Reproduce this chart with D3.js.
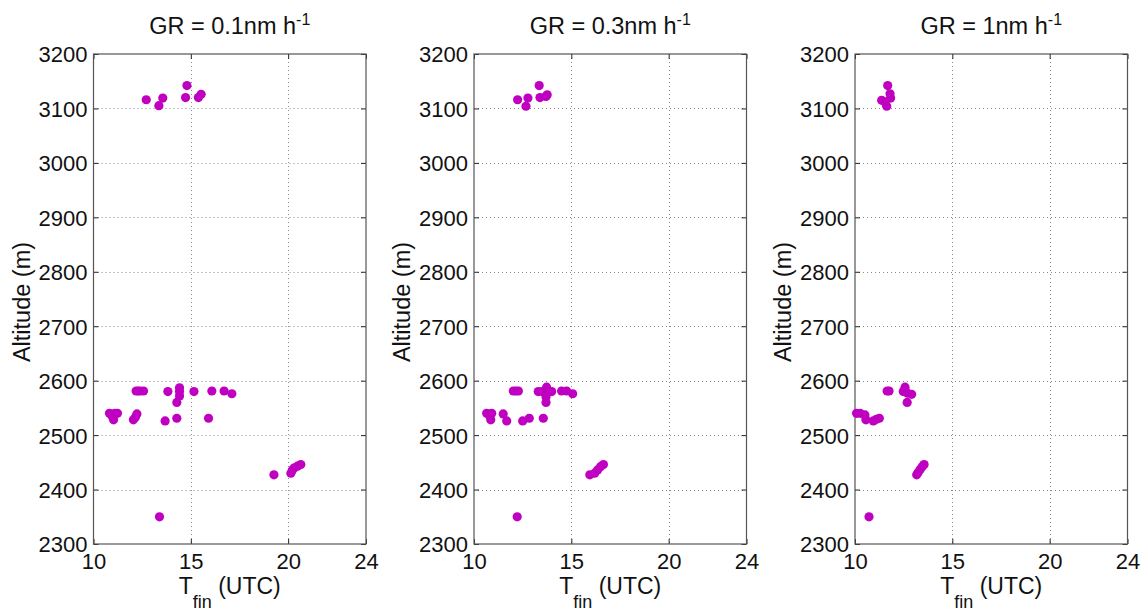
<!DOCTYPE html>
<html>
<head>
<meta charset="utf-8">
<script src="https://cdn.jsdelivr.net/npm/d3@7"></script>
<style>
  html, body { margin: 0; padding: 0; background: #fff; }
  svg { display: block; font-family: "Liberation Sans", Arial, sans-serif; }
</style>
</head>
<body>
<svg id="chart" width="1147" height="613"></svg>
<script>
// Final time of new-particle growth vs. altitude, for three growth rates
const growthRates = ["0.1", "0.3", "1"];

const xTicks = [10, 15, 20, 24];
const yTicks = [2300, 2400, 2500, 2600, 2700, 2800, 2900, 3000, 3100, 3200];
const xDomain = [10, 24];
const yDomain = [2300, 3200];

// [T_fin (UTC hours), altitude (m)]
const pointsGR01 = [
  [12.71, 3116], [13.36, 3105], [13.56, 3119], [14.80, 3142], [14.73, 3120], [15.39, 3120], [15.53, 3126],
  [10.82, 2540], [10.95, 2535], [11.03, 2528], [11.10, 2540], [11.23, 2540],
  [12.05, 2528], [12.15, 2533], [12.23, 2539],
  [12.19, 2581], [12.30, 2581], [12.40, 2581], [12.57, 2581],
  [13.82, 2580], [13.68, 2526],
  [14.42, 2587], [14.42, 2580], [14.42, 2572], [14.28, 2560], [14.28, 2531],
  [15.16, 2580], [16.08, 2581], [15.91, 2531], [16.71, 2581], [17.11, 2576],
  [19.27, 2427],
  [20.14, 2430], [20.22, 2436], [20.32, 2440], [20.48, 2443], [20.65, 2446],
  [13.39, 2350]
];

const pointsGR03 = [
  [12.24, 3116], [12.67, 3104], [12.77, 3119], [13.35, 3142], [13.39, 3120], [13.70, 3122], [13.76, 3125],
  [10.65, 2540], [10.78, 2537], [10.86, 2528], [10.91, 2540],
  [11.50, 2539], [11.68, 2526],
  [12.50, 2526], [12.84, 2531], [13.56, 2531],
  [12.02, 2581], [12.15, 2581], [12.28, 2581],
  [13.30, 2580], [13.50, 2580], [13.73, 2588], [13.70, 2577], [13.70, 2570], [13.99, 2580], [13.70, 2560],
  [14.50, 2581], [14.76, 2581], [15.07, 2576],
  [15.95, 2427], [16.20, 2430], [16.35, 2436], [16.50, 2442], [16.65, 2446],
  [12.22, 2350]
];

const pointsGR1 = [
  [11.68, 3142], [11.37, 3115], [11.54, 3112], [11.63, 3104], [11.80, 3127], [11.83, 3119],
  [10.08, 2540], [10.26, 2540], [10.51, 2537], [10.56, 2528], [10.94, 2526], [11.10, 2529], [11.25, 2531],
  [11.65, 2581], [11.75, 2581],
  [12.48, 2580], [12.57, 2588], [12.70, 2577], [12.91, 2575], [12.68, 2560],
  [13.17, 2427], [13.25, 2432], [13.35, 2437], [13.45, 2442], [13.55, 2446],
  [10.72, 2350]
];

const panelData = [pointsGR01, pointsGR03, pointsGR1];

// layout
const panelLefts = [93.5, 474, 855];
const panelWidth = 272.5;
const plotTop = 54, plotBottom = 544;
const dotColor = "#C000C0";

const svg = d3.select("#chart");

panelData.forEach((pts, i) => {
  const x0 = panelLefts[i];
  const x = d3.scaleLinear().domain(xDomain).range([x0, x0 + panelWidth]);
  const y = d3.scaleLinear().domain(yDomain).range([plotBottom, plotTop]);
  const g = svg.append("g");

  // dotted grid
  g.selectAll(".gx").data(xTicks.filter(t => t > xDomain[0] && t < xDomain[1])).enter()
    .append("line")
    .attr("x1", d => Math.round(x(d)) + 0.5).attr("x2", d => Math.round(x(d)) + 0.5)
    .attr("y1", plotTop).attr("y2", plotBottom)
    .attr("stroke", "#888").attr("stroke-width", 1).attr("stroke-dasharray", "1,3");
  g.selectAll(".gy").data(yTicks.filter(t => t > yDomain[0] && t < yDomain[1])).enter()
    .append("line")
    .attr("x1", x0).attr("x2", x0 + panelWidth)
    .attr("y1", d => Math.round(y(d)) + 0.5).attr("y2", d => Math.round(y(d)) + 0.5)
    .attr("stroke", "#888").attr("stroke-width", 1).attr("stroke-dasharray", "1,3");

  // axes with inward ticks on all four sides
  const tickLen = 5;
  const axB = g.append("g").attr("transform", `translate(0,${plotBottom})`)
    .call(d3.axisBottom(x).tickValues(xTicks).tickSize(-tickLen).tickPadding(9).tickFormat(d3.format("d")));
  const axT = g.append("g").attr("transform", `translate(0,${plotTop})`)
    .call(d3.axisTop(x).tickValues(xTicks).tickSize(-tickLen).tickFormat(""));
  const axL = g.append("g").attr("transform", `translate(${x0},0)`)
    .call(d3.axisLeft(y).tickValues(yTicks).tickSize(-tickLen).tickPadding(6).tickFormat(d3.format("d")));
  const axR = g.append("g").attr("transform", `translate(${x0 + panelWidth},0)`)
    .call(d3.axisRight(y).tickValues(yTicks).tickSize(-tickLen).tickFormat(""));
  [axB, axT, axL, axR].forEach(a => {
    a.select(".domain").remove();
    a.selectAll(".tick line").attr("stroke", "#222");
    a.selectAll(".tick text").attr("fill", "#111").style("font-size", "22px")
      .style("font-family", "'Liberation Sans', Arial, sans-serif");
  });
  axB.selectAll(".tick text").attr("dy", "0.71em");
  axL.selectAll(".tick text").attr("dy", "0.36em");

  // box
  g.append("rect")
    .attr("x", x0).attr("y", plotTop).attr("width", panelWidth).attr("height", plotBottom - plotTop)
    .attr("fill", "none").attr("stroke", "#555").attr("stroke-width", 1.2);

  // points
  g.selectAll("circle").data(pts).enter().append("circle")
    .attr("cx", d => x(d[0])).attr("cy", d => y(d[1])).attr("r", 4.6)
    .attr("fill", dotColor);

  const cx = x0 + panelWidth / 2;

  // title
  const title = g.append("text").attr("x", cx).attr("y", 34)
    .attr("text-anchor", "middle").attr("fill", "#111").style("font-size", "23.5px");
  title.append("tspan").text(`GR = ${growthRates[i]}nm h`);
  title.append("tspan").attr("dy", -9).style("font-size", "16px").text("-1");

  // x label
  const xl = g.append("text").attr("x", cx).attr("y", 594)
    .attr("text-anchor", "middle").attr("fill", "#111").style("font-size", "23px");
  xl.append("tspan").text("T");
  xl.append("tspan").attr("dy", 14).style("font-size", "18px").text("fin");
  xl.append("tspan").attr("dy", -14).text(" (UTC)");

  // y label
  g.append("text")
    .attr("transform", `translate(${x0 - 64},${(plotTop + plotBottom) / 2 + 3}) rotate(-90)`)
    .attr("text-anchor", "middle").attr("fill", "#111").style("font-size", "23.5px")
    .text("Altitude (m)");
});
</script>
</body>
</html>
